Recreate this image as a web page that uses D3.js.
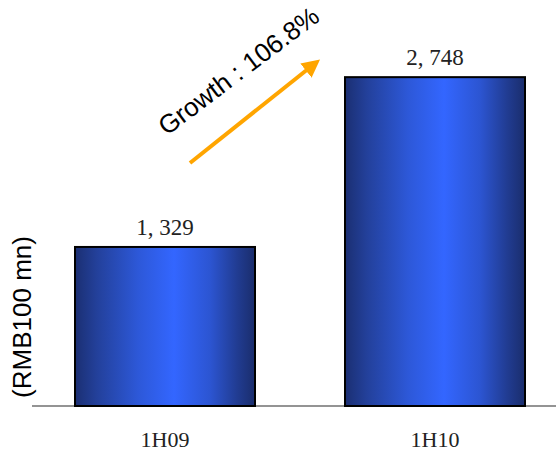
<!DOCTYPE html>
<html><head><meta charset="utf-8">
<script src="https://cdn.jsdelivr.net/npm/d3@7"></script>
<style>body{margin:0;background:#fff}svg{display:block}</style>
</head><body>
<svg id="c" width="556" height="454"></svg>
<script>
const categories = ["1H09", "1H10"];
const values = [1329, 2748];
const labels = ["1, 329", "2, 748"];
const yLabel = "(RMB100 mn)";
const growthPct = ((values[1] / values[0] - 1) * 100).toFixed(1);

const svg = d3.select("#c");
const defs = svg.append("defs");
const g = defs.append("linearGradient").attr("id","bg").attr("x1","0").attr("x2","1").attr("y1","0").attr("y2","0");
[[0,"#1b2f72"],[0.12,"#23409a"],[0.35,"#2d58d8"],[0.55,"#3366ff"],[0.75,"#2c55d2"],[0.9,"#213c92"],[1,"#1a2d6c"]]
  .forEach(([o,c])=>g.append("stop").attr("offset",o).attr("stop-color",c));

const x = d3.scaleBand().domain(categories).range([30, 570]).paddingInner(1/3).paddingOuter(1/6);
const y = d3.scaleLinear().domain([0, 3000]).range([406, 47]);

// axis baseline
svg.append("line").attr("x1",32).attr("x2",556).attr("y1",y(0)).attr("y2",y(0))
  .attr("stroke","#707070").attr("stroke-width",1.5);

svg.selectAll("rect.bar").data(values).join("rect").attr("class","bar")
  .attr("x",(d,i)=>x(categories[i])).attr("width",x.bandwidth())
  .attr("y",d=>y(d)).attr("height",d=>y(0)-y(d))
  .attr("fill","url(#bg)").attr("stroke","#000").attr("stroke-width",2);

svg.selectAll("text.val").data(values).join("text").attr("class","val")
  .attr("x",(d,i)=>x(categories[i])+x.bandwidth()/2).attr("y",d=>y(d)-12)
  .attr("text-anchor","middle").attr("font-family","Liberation Serif, serif").attr("font-size",23)
  .attr("fill","#222").text((d,i)=>labels[i]);

svg.selectAll("text.cat").data(categories).join("text").attr("class","cat")
  .attr("x",d=>x(d)+x.bandwidth()/2).attr("y",447)
  .attr("text-anchor","middle").attr("font-family","Liberation Serif, serif").attr("font-size",22)
  .attr("fill","#222").text(d=>d);

svg.append("text").attr("transform","translate(31,317) rotate(-90)")
  .attr("text-anchor","middle").attr("font-family","Liberation Sans, Arial, sans-serif").attr("font-size",26)
  .attr("fill","#000").text(yLabel);

// growth arrow
defs.append("marker").attr("id","ah").attr("viewBox","0 0 10 10").attr("refX",5).attr("refY",5)
  .attr("markerWidth",4.5).attr("markerHeight",4.5).attr("orient","auto")
  .append("path").attr("d","M0,0 L10,5 L0,10 Z").attr("fill","#FFA500");
svg.append("line").attr("x1",190).attr("y1",163).attr("x2",313).attr("y2",65)
  .attr("stroke","#FFA500").attr("stroke-width",4).attr("marker-end","url(#ah)");

svg.append("text").attr("transform","translate(244,78) rotate(-37)")
  .attr("text-anchor","middle").attr("font-family","Liberation Sans, Arial, sans-serif").attr("font-size",26)
  .attr("fill","#000").text("Growth : " + growthPct + "%");
</script>
</body></html>
